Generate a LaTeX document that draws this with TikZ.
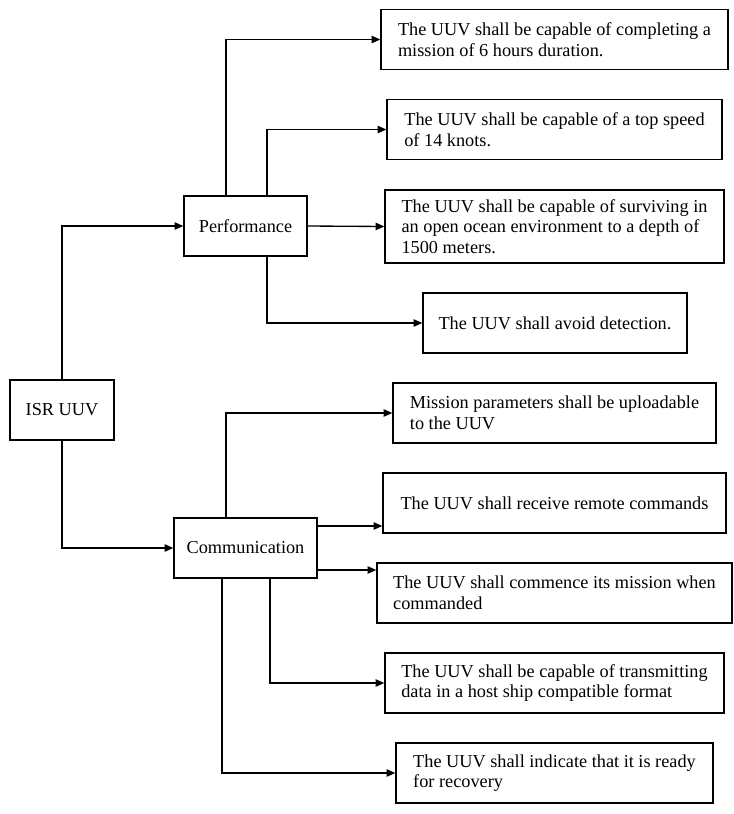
\documentclass[tikz,border=0pt]{standalone}
\usepackage{fontspec}
\setmainfont{Liberation Serif}
\usetikzlibrary{arrows.meta}

\begin{document}
\begin{tikzpicture}[
  x=0.75pt, y=-0.75pt,
  every node/.style={font=\fontsize{13.7}{15.5}\selectfont},
  box/.style={draw, line width=1pt, align=left, inner sep=0pt, minimum height=45pt},
  arr/.style={draw, line width=1pt, -{Triangle[length=6.5pt,width=5.5pt]}}
]
\useasboundingbox (0,0) rectangle (734,814);
\node[box, minimum width=78pt]    (isr)  at (62,410)    {ISR UUV};
\node[box, minimum width=92.25pt] (perf) at (245.5,226) {Performance};
\node[box, minimum width=107.25pt] (comm) at (245.5,548) {Communication};

\node[box, minimum width=260.25pt] (r1) at (554.5,39.5)  {The UUV shall be capable of completing a\\mission of 6 hours duration.};
\node[box, minimum width=251.25pt] (r2) at (554.5,129.5) {The UUV shall be capable of a top speed\\of 14 knots.};
\node[box, minimum width=254.25pt, minimum height=54.75pt] (r3) at (554.5,226.5) {The UUV shall be capable of surviving in\\an open ocean environment to a depth of\\1500 meters.};
\node[box, minimum width=198pt]    (r4) at (555,323)     {The UUV shall avoid detection.};
\node[box, minimum width=242.25pt] (r5) at (554.5,413)   {Mission parameters shall be uploadable\\to the UUV};
\node[box, minimum width=257.25pt] (r6) at (554.5,503)   {The UUV shall receive remote commands};
\node[box, minimum width=266.25pt] (r7) at (554.5,593)   {The UUV shall commence its mission when\\commanded};
\node[box, minimum width=254.25pt] (r8) at (554.5,683)   {The UUV shall be capable of transmitting\\data in a host ship compatible format};
\node[box, minimum width=237.75pt] (r9) at (554.5,773)   {The UUV shall indicate that it is ready\\for recovery};

\draw[arr] (isr.north) |- (perf.west);
\draw[arr] (isr.south) |- (comm.west);
\draw[arr] ([xshift=-14.625pt]perf.north) |- (r1.west);
\draw[arr] ([xshift=16.125pt]perf.north) |- (r2.west);
\draw[arr] (perf.east) -- (r3.west);
\draw[arr] ([xshift=16.125pt]perf.south) |- (r4.west);
\draw[arr] ([xshift=-14.625pt]comm.north) |- (r5.west);
\coordinate (c6) at ([yshift=16.5pt]comm.east);
\coordinate (c7) at ([yshift=-16.5pt]comm.east);
\draw[arr] (c6) -- (c6 -| r6.west);
\draw[arr] (c7) -- (c7 -| r7.west);
\draw[arr] ([xshift=18.375pt]comm.south) |- (r8.west);
\draw[arr] ([xshift=-17.625pt]comm.south) |- (r9.west);
\end{tikzpicture}
\end{document}
